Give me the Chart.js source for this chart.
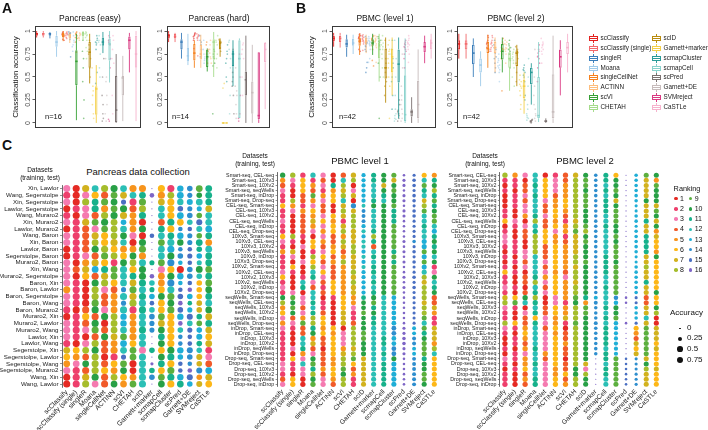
<!DOCTYPE html>
<html><head><meta charset="utf-8">
<script src="https://cdn.jsdelivr.net/npm/chart.js@4.4.0/dist/chart.umd.min.js"></script>
<style>
html,body{margin:0;padding:0;background:#fff;}
body{width:708px;height:430px;position:relative;overflow:hidden;font-family:"Liberation Sans",Arial,Helvetica,sans-serif;color:#111;}
.t{position:absolute;white-space:nowrap;line-height:1;}
canvas{position:absolute;}
.ic{position:absolute;width:9px;height:9px;}
.ic .w{position:absolute;left:4px;top:0;width:1px;height:9px;}
.ic .b{position:absolute;left:0;top:2px;width:7px;height:3px;border:1px solid;background:#fff;}
.ic .m{position:absolute;left:0;top:4px;width:9px;height:1px;}
.dot{position:absolute;border-radius:50%;}
</style></head><body>
<script>
const F = '"Liberation Sans", Arial, Helvetica, sans-serif';

// ---------- Panel A/B: box plots ----------
const methods = ['scClassify','scClassify (single)','singleR','Moana','singleCellNet','ACTINN','scVI','CHETAH','scID','Garnett+marker','scmapCluster','scmapCell','scPred','Garnett+DE','SVMreject','CaSTLe'];
const methodColors = ['#E3211F','#F2696C','#3B7EBA','#9FCBEA','#F5821F','#FDBE7F','#37A035','#A6DC8C','#B98C0F','#F3CF4A','#2B9C98','#8AD2CC','#7B7170','#C7BCBC','#D93A82','#F6B3CD'];
const yTicks = [0, 0.25, 0.5, 0.75, 1];
const yTickLabels = ['0', '0.25', '0.5', '0.75', '1'];

// [min, q1, median, q3, max]
const easyBox = [
[0.93,0.95,0.97,0.98,1.0],[0.93,0.95,0.97,0.98,1.0],[0.92,0.95,0.97,0.98,0.99],[0.72,0.83,0.88,0.95,1.0],
[0.89,0.93,0.96,0.98,1.0],[0.87,0.92,0.95,0.97,0.99],[0.03,0.41,0.67,0.79,0.97],[0.9,0.94,0.97,0.99,1.0],
[0.43,0.6,0.77,0.88,0.97],[0.0,0.09,0.37,0.4,0.63],[0.76,0.84,0.88,0.93,0.99],[0.44,0.68,0.86,0.92,1.0],
[0.0,0.01,0.14,0.51,0.75],[0.02,0.3,0.49,0.51,0.73],[0.55,0.8,0.9,0.94,0.98],[0.02,0.6,0.75,0.95,1.0]];
const hardBox = [
[0.88,0.92,0.95,0.97,1.0],[0.88,0.92,0.94,0.97,0.98],[0.7,0.8,0.88,0.91,0.98],[0.63,0.67,0.73,0.82,0.97],
[0.6,0.68,0.76,0.86,0.9],[0.6,0.69,0.75,0.85,0.96],[0.56,0.61,0.72,0.8,0.81],[0.5,0.69,0.88,0.91,0.99],
[0.72,0.8,0.87,0.9,0.92],[0,0,0,0,0],[0.4,0.62,0.75,0.79,0.9],[0.05,0.05,0.7,0.9,0.92],
[0,0.3,0.47,0.56,0.95],[0,0.1,0.33,0.45,0.85],[0,0.04,0.08,0.77,0.77],[0.15,0.66,0.8,0.87,0.88]];
const level1Box = [
[0.83,0.89,0.92,0.95,0.98],[0.82,0.88,0.92,0.95,0.98],[0.72,0.82,0.86,0.91,0.96],[0.75,0.84,0.87,0.92,0.96],
[0.74,0.84,0.89,0.93,0.97],[0.76,0.85,0.89,0.93,0.96],[0.74,0.84,0.87,0.91,0.97],[0.45,0.7,0.83,0.87,0.97],
[0.22,0.48,0.6,0.81,0.93],[0.3,0.55,0.72,0.81,0.93],[0.05,0.44,0.64,0.8,0.93],[0,0.02,0.09,0.52,0.92],
[0,0.07,0.12,0.15,0.28],[0,0.05,0.2,0.46,0.8],[0.65,0.77,0.83,0.88,0.95],[0.7,0.8,0.87,0.91,0.97]];
const level2Box = [
[0.7,0.8,0.86,0.9,0.97],[0.7,0.8,0.86,0.9,0.97],[0.5,0.64,0.76,0.85,0.92],[0.4,0.55,0.63,0.7,0.78],
[0.6,0.76,0.81,0.88,0.96],[0.55,0.76,0.82,0.88,0.93],[0.55,0.69,0.78,0.86,0.93],[0.35,0.6,0.7,0.77,0.83],
[0.4,0.62,0.76,0.79,0.85],[0.1,0.27,0.4,0.47,0.55],[0.2,0.42,0.55,0.6,0.65],[0.01,0.05,0.08,0.5,0.88],
[0,0.01,0.02,0.03,0.05],[0,0.05,0.12,0.53,0.95],[0.3,0.6,0.72,0.8,0.9],[0.55,0.75,0.82,0.88,0.97]];

// individual accuracies shown as jittered points (outliers included)
const easyPts = [
[0.96,0.97,0.98,0.95,0.99,0.97,0.94,0.91,0.9],[0.97,0.96,0.98,0.95,0.99,0.93,0.97,0.92],[0.97,0.96,0.98,0.95,0.99,0.93,0.97,0.72,0.91],
[0.9,0.85,0.83,0.95,0.78,0.88,0.99],[0.97,0.95,0.98,0.93,0.99,0.96,0.92,0.77,0.88],[0.95,0.93,0.97,0.9,0.96,0.98,0.92],
[0.7,0.45,0.25,0.6,0.78,0.05,0.9],[0.97,0.95,0.99,0.96,0.98,0.93,0.9,0.82,0.78,0.7],[0.8,0.7,0.6,0.85,0.5,0.9,0.75],
[0.35,0.2,0.05,0.4,0.6,0.1,0.3],[0.9,0.85,0.88,0.95,0.8,0.92,0.87,0.43,0.55],[0.9,0.75,0.6,0.88,0.5,0.95,0.85],
[0.1,0.3,0.05,0.5,0.7,0.2,0.02],[0.3,0.45,0.1,0.5,0.7,0.2,0.02],[0.9,0.85,0.95,0.7,0.93,0.88,0.6,0.02,0.04],[0.8,0.65,0.95,0.3,0.9,0.1,0.7]];
const hardPts = [
[0.94,0.96,0.92,0.98,0.95,0.9,0.97,0.81],[0.93,0.95,0.9,0.97,0.94,0.92,0.96,0.73],[0.85,0.9,0.8,0.75,0.95,0.88,0.72],
[0.7,0.75,0.8,0.68,0.9,0.72,0.65],[0.75,0.8,0.7,0.85,0.65,0.88,0.78],[0.72,0.8,0.7,0.85,0.65,0.9,0.76],
[0.7,0.75,0.65,0.8,0.62,0.78,0.72,0.1],[0.9,0.85,0.7,0.95,0.6,0.88,0.75],[0.85,0.88,0.82,0.9,0.78,0.87,0.91],
[0,0,0,0,0,0,0.38,0.43],[0.75,0.7,0.65,0.78,0.5,0.85,0.45],[0.8,0.6,0.1,0.88,0.3,0.9,0.7],
[0.5,0.4,0.3,0.55,0.1,0.8,0.45],[0.35,0.2,0.4,0.1,0.6,0.3,0.05],[0.05,0.1,0.7,0.3,0.75,0.02,0.5],[0.8,0.7,0.85,0.5,0.87,0.3,0.75]];
const level1Pts = [
[0.92,0.9,0.94,0.95,0.88,0.93,0.91,0.96,0.89,0.97,0.8,0.78],[0.91,0.93,0.89,0.95,0.9,0.94,0.88,0.96,0.92,0.86,0.79],
[0.86,0.84,0.88,0.9,0.8,0.92,0.83,0.87,0.78,0.94,0.6,0.55,0.66],[0.88,0.86,0.9,0.84,0.92,0.8,0.87,0.94,0.85,0.89,0.66,0.7],
[0.9,0.88,0.86,0.92,0.94,0.84,0.89,0.8,0.91,0.95,0.68,0.62],[0.9,0.88,0.86,0.92,0.94,0.84,0.89,0.82,0.91,0.95,0.66],
[0.88,0.86,0.9,0.84,0.92,0.8,0.87,0.94,0.85,0.89,0.5,0.05,0.65],[0.85,0.8,0.75,0.87,0.6,0.9,0.83,0.7,0.5,0.95],
[0.6,0.5,0.7,0.4,0.8,0.55,0.3,0.65,0.9,0.45],[0.75,0.6,0.8,0.5,0.7,0.9,0.65,0.4,0.78,0.85,0.05],
[0.65,0.5,0.75,0.3,0.8,0.6,0.9,0.45,0.7,0.15],[0.05,0.1,0.3,0.02,0.5,0.08,0.7,0.15,0.9,0.04],
[0.1,0.12,0.08,0.14,0.2,0.05,0.13,0.25,0.1,0.02],[0.1,0.3,0.2,0.05,0.4,0.6,0.15,0.02,0.75,0.25],
[0.83,0.8,0.86,0.78,0.88,0.75,0.9,0.82,0.7,0.85,0.6],[0.87,0.85,0.9,0.83,0.92,0.8,0.88,0.95,0.86,0.75,0.66]];
const level2Pts = [
[0.86,0.84,0.88,0.8,0.9,0.82,0.93,0.87,0.78,0.95],[0.86,0.84,0.88,0.8,0.9,0.82,0.93,0.87,0.78,0.95],
[0.76,0.7,0.8,0.65,0.85,0.6,0.9,0.72,0.55,0.82],[0.63,0.6,0.66,0.55,0.7,0.58,0.75,0.62,0.45,0.68],
[0.82,0.8,0.85,0.78,0.88,0.75,0.92,0.81,0.7,0.86,0.35],[0.82,0.8,0.85,0.78,0.88,0.75,0.9,0.81,0.65,0.86],
[0.78,0.75,0.82,0.7,0.86,0.68,0.9,0.8,0.6,0.84],[0.7,0.65,0.75,0.6,0.77,0.5,0.8,0.72,0.4,0.68],
[0.76,0.7,0.78,0.65,0.8,0.55,0.83,0.74,0.45,0.77],[0.4,0.35,0.45,0.3,0.47,0.2,0.52,0.38,0.15,0.42],
[0.55,0.5,0.58,0.45,0.6,0.3,0.63,0.52,0.25,0.57],[0.08,0.05,0.2,0.1,0.4,0.06,0.7,0.15,0.03,0.5],
[0.02,0.01,0.03,0.02,0.04,0.01,0.02,0.03,0.0,0.02],[0.1,0.05,0.3,0.15,0.5,0.08,0.8,0.2,0.02,0.4],
[0.72,0.7,0.76,0.65,0.8,0.6,0.85,0.73,0.45,0.78],[0.82,0.8,0.85,0.78,0.88,0.75,0.92,0.84,0.65,0.86]];

// ---------- Panel C: dot matrices ----------
const methodsC = ['scClassify','scClassify (single)','singleR','Moana','singleCellNet','ACTINN','scVI','CHETAH','scID','Garnett+marker','scmapCell','scmapCluster','scPred','Garnett+DE','SVMreject','CaSTLe'];
const rankColors = ['#E52A24','#EE3F6C','#F57AB0','#F15A29','#F7941D','#FDB718','#D2B21E','#A5BD2C','#5CAF3E','#28A046','#17B18B','#2BBFB5','#1FAED6','#2E8ECE','#4A6FC2','#7E65C6'];

const pancreasRows = ['Xin, Lawlor','Wang, Segerstolpe','Xin, Segerstolpe','Lawlor, Segerstolpe','Wang, Muraro2','Xin, Muraro2','Lawlor, Muraro2','Wang, Baron','Xin, Baron','Lawlor, Baron','Segerstolpe, Baron','Muraro2, Baron','Xin, Wang','Muraro2, Segerstolpe','Baron, Xin','Baron, Lawlor','Baron, Segerstolpe','Baron, Wang','Baron, Muraro2','Muraro2, Xin','Muraro2, Lawlor','Muraro2, Wang','Lawlor, Xin','Lawlor, Wang','Segerstolpe, Xin','Segerstolpe, Lawlor','Segerstolpe, Wang','Segerstolpe, Muraro2','Wang, Xin','Wang, Lawlor'];
const pancreasRank = [
[3,1,7,12,8,10,12,5,5,16,6,2,13,14,9,11],[2,1,3,6,4,9,7,12,11,16,5,8,13,14,10,11],[3,1,8,11,9,10,15,2,9,16,7,6,12,13,12,11],
[1,2,3,11,5,9,10,4,8,16,12,6,15,14,13,7],[2,1,3,4,8,10,7,5,11,16,12,6,13,14,9,12],[3,2,7,9,10,8,13,5,1,16,4,11,6,12,15,12],
[1,2,4,3,9,8,12,5,10,16,11,6,14,15,12,13],[3,2,4,7,6,8,10,3,1,15,12,11,13,14,9,11],[3,2,4,8,6,7,12,1,10,16,9,12,10,14,11,5],
[1,2,4,10,8,6,5,5,9,16,12,13,14,15,11,12],[1,2,3,4,9,8,6,10,5,16,12,10,14,15,13,11],[3,1,5,7,6,2,10,8,12,11,9,14,13,15,12,11],
[3,4,7,13,11,9,12,6,10,16,3,6,1,14,10,9],[3,1,6,4,7,9,12,11,10,16,5,10,13,14,12,11],[3,2,1,10,8,6,12,7,11,12,5,14,13,15,6,9],
[5,2,1,8,3,4,14,9,12,11,6,12,15,16,6,10],[3,2,1,8,4,5,12,7,11,13,10,9,15,13,6,11],[3,2,1,9,4,5,14,8,12,15,6,10,16,11,7,12],
[2,1,4,10,3,5,12,2,11,12,6,9,15,13,7,10],[1,2,6,4,10,8,13,5,12,14,9,6,13,15,11,7],[3,2,4,10,1,8,13,5,12,14,7,6,16,12,9,11],
[3,2,3,9,4,8,12,5,11,14,10,6,12,15,13,7],[3,2,1,4,10,7,9,5,12,16,11,6,14,15,13,6],[2,1,3,8,4,5,13,6,12,16,10,6,14,15,11,7],
[7,6,8,10,4,5,12,9,3,11,6,10,13,14,12,2],[6,5,4,8,1,2,15,9,12,16,10,11,13,14,7,3],[5,3,10,8,4,6,9,1,12,16,11,6,15,14,7,4],
[3,2,4,8,6,5,10,1,12,11,6,9,15,16,14,13],[1,2,7,10,4,8,6,5,12,14,9,11,13,15,5,7],[1,2,8,3,4,10,5,9,12,16,10,6,11,13,7,6]];
// accuracy per cell, one digit per method: digit/10
const pancreasAcc = ['9998998990997588','9999988883988458','9998984990897688','9999989990895448','9999999890898558','9998985990898568',
'9999888890893368','9999988993887458','9998997990897488','9999988890893358','9999988890895458','9999988894893348',
'9998989990999588','9999988893897558','9999988895893358','9999984994893358','9999989995895558','9999984993883358',
'9999989995895458','9999987895897658','9999987894893558','9999988894895458','9999988990893368','9999988890893358',
'8889998895897658','8889994890895568','8889988991893358','9999988895893368','9999988895897658','9998988890898568'];

const pbmcRows = ['Smart-seq, CEL-seq','Smart-seq, 10Xv3','Smart-seq, 10Xv2','Smart-seq, seqWells','Smart-seq, inDrop','Smart-seq, Drop-seq',
'CEL-seq, Smart-seq','CEL-seq, 10Xv3','CEL-seq, 10Xv2','CEL-seq, seqWells','CEL-seq, inDrop','CEL-seq, Drop-seq',
'10Xv3, Smart-seq','10Xv3, CEL-seq','10Xv3, 10Xv2','10Xv3, seqWells','10Xv3, inDrop','10Xv3, Drop-seq',
'10Xv2, Smart-seq','10Xv2, CEL-seq','10Xv2, 10Xv3','10Xv2, seqWells','10Xv2, inDrop','10Xv2, Drop-seq',
'seqWells, Smart-seq','seqWells, CEL-seq','seqWells, 10Xv3','seqWells, 10Xv2','seqWells, inDrop','seqWells, Drop-seq',
'inDrop, Smart-seq','inDrop, CEL-seq','inDrop, 10Xv3','inDrop, 10Xv2','inDrop, seqWells','inDrop, Drop-seq',
'Drop-seq, Smart-seq','Drop-seq, CEL-seq','Drop-seq, 10Xv3','Drop-seq, 10Xv2','Drop-seq, seqWells','Drop-seq, inDrop'];
const level1Rank = [
[10,8,2,12,3,1,4,7,13,11,10,9,16,15,6,5],[5,3,6,2,4,1,12,8,13,11,10,7,16,15,12,11],[4,2,6,5,3,11,8,1,13,12,7,10,16,15,9,10],
[3,1,6,4,2,5,7,3,13,12,10,9,16,15,11,8],[2,1,4,9,5,6,8,7,13,12,11,10,16,15,12,11],[2,8,4,5,3,6,12,1,13,11,12,10,16,15,7,9],
[6,5,2,3,4,1,7,14,12,10,10,9,16,15,8,11],[2,3,5,6,4,1,8,7,14,12,10,11,16,15,9,10],[2,1,4,5,3,6,7,8,14,12,10,11,16,15,12,9],
[3,1,4,7,6,5,2,8,14,12,10,11,16,15,12,9],[2,1,4,5,3,6,7,8,13,12,10,9,16,15,11,12],[2,1,4,3,5,6,8,7,12,11,10,9,16,15,12,13],
[6,8,2,1,3,4,5,7,13,8,10,9,16,15,12,11],[3,2,1,6,5,4,8,7,12,11,10,9,16,14,13,10],[2,1,3,6,4,5,7,8,12,4,10,9,16,15,13,11],
[5,7,1,2,3,6,4,8,13,12,10,11,16,15,9,10],[2,3,1,8,6,4,5,7,12,11,10,9,16,15,13,12],[2,1,3,6,4,5,8,7,13,12,10,11,16,15,9,10],
[2,6,1,8,3,4,5,7,12,11,10,9,16,15,13,2],[3,2,1,12,6,4,5,8,13,11,10,9,16,15,12,3],[6,1,2,11,3,4,5,7,13,12,10,9,16,15,8,10],
[2,1,12,3,4,6,5,8,13,11,10,9,16,15,7,12],[3,1,11,4,2,6,5,7,13,12,10,9,16,15,8,11],[2,3,1,12,4,6,5,7,13,11,10,9,16,15,8,10],
[10,9,3,12,1,2,6,5,11,10,12,13,16,15,8,4],[8,10,3,11,2,1,6,5,10,9,12,13,16,15,7,4],[5,9,4,12,2,1,6,3,10,11,12,13,16,15,8,7],
[6,10,3,11,4,1,7,2,9,10,12,13,16,15,8,5],[3,4,5,8,6,1,7,2,10,11,12,13,16,15,9,2],[5,3,9,8,6,1,7,4,10,11,12,13,16,15,12,2],
[3,2,4,11,5,6,1,8,10,12,12,14,16,13,9,7],[2,1,4,10,6,5,3,8,9,12,12,14,16,13,11,7],[2,1,12,5,4,6,3,8,9,12,11,13,16,14,10,7],
[2,1,12,7,4,6,3,8,10,12,11,13,16,14,9,5],[2,3,11,4,1,6,5,7,10,12,12,14,16,13,9,8],[2,1,5,3,4,6,7,8,10,12,11,14,16,13,9,12],
[2,6,3,10,4,5,8,9,7,12,12,10,16,14,11,6],[3,2,12,9,4,5,8,6,7,12,11,13,16,14,10,6],[3,2,3,11,5,6,9,4,7,12,11,13,16,14,10,6],
[2,1,3,8,4,6,10,5,7,12,11,13,16,14,9,6],[4,6,1,10,3,5,8,2,7,12,11,13,16,14,9,6],[3,6,1,9,3,4,8,2,7,12,11,13,16,14,10,6]];
const level1Acc = ['9999999958881288','9999999858882388','9999998958882388','9999999958881288','9998999958882388','9899999958882378',
'9999999948881288','9999999848882388','9999999848882388','9999999848881288','9999999858881288','9999999958881288',
'9999999958981288','9999999858882388','9999999859881288','9999999958882388','9999999958881288','9999999958882388',
'9999999958881289','9999999958881289','9999999958882388','9999999958881288','9999999958882388','9999999958881288',
'8898999878871289','8898999878871289','9898999878871288','9898999978871288','9998999978871289','9998999978871289',
'9999999888872488','9999999888872488','9999999888873488','9999999888873489','9999999888872488','9999999888872488',
'9999999888881488','9999999888881488','9999999988881488','9999999888881488','9999999988881488','9999999988881488'];
const level2Rank = [
[8,5,3,12,1,2,4,7,10,14,11,6,16,13,9,10],[2,2,1,12,6,3,4,8,9,14,11,10,16,13,7,5],[1,2,4,11,6,3,5,8,9,14,12,10,16,13,7,9],
[2,1,4,12,6,3,5,8,10,14,11,9,16,13,7,10],[1,2,3,11,6,4,5,8,9,14,12,10,16,13,7,10],[1,2,4,12,3,5,6,8,9,14,11,7,16,13,10,10],
[1,2,3,12,4,5,6,8,9,14,11,10,16,13,7,7],[2,1,3,12,4,6,5,8,10,14,11,9,16,13,7,9],[2,1,5,11,3,6,4,8,10,14,12,9,16,13,7,10],
[6,3,1,8,4,5,2,7,10,14,12,9,16,13,11,7],[1,2,3,12,4,6,5,8,9,14,11,10,16,13,7,10],[2,1,4,11,6,3,5,9,8,14,12,10,16,13,7,5],
[3,1,4,8,6,5,2,7,10,14,12,9,16,13,11,7],[3,2,1,8,6,5,4,7,9,14,12,10,16,13,11,6],[2,2,1,8,4,6,5,7,10,14,12,9,16,13,11,6],
[1,2,3,8,4,6,5,7,10,14,12,9,16,13,11,5],[2,1,3,12,4,6,5,8,10,14,11,9,16,13,7,10],[1,2,4,12,3,6,5,8,9,14,11,10,16,13,7,6],
[2,1,3,12,4,6,5,7,10,14,11,9,16,13,8,6],[6,2,1,12,3,5,4,8,10,14,11,9,16,13,7,6],[2,1,4,11,5,6,3,8,10,14,12,9,16,13,7,6],
[2,1,4,8,3,6,5,7,10,14,12,9,16,13,11,6],[3,2,1,12,4,6,5,8,10,14,11,9,16,13,7,6],[2,1,4,11,3,6,5,8,10,14,12,9,16,13,7,10],
[7,6,10,8,1,3,5,9,11,13,12,14,16,15,4,6],[8,9,12,11,1,3,2,10,5,14,12,13,16,15,4,6],[3,2,1,12,4,6,5,8,9,14,11,10,16,13,7,10],
[2,1,3,11,4,6,5,8,9,14,12,10,16,13,7,8],[2,1,4,6,3,5,7,8,10,14,11,9,16,13,12,1],[8,6,4,11,3,5,2,9,10,14,12,13,16,15,7,1],
[3,2,5,12,4,6,1,8,10,14,11,13,16,6,9,7],[2,1,6,12,3,5,4,8,10,14,11,13,16,5,9,7],[1,2,5,12,3,6,4,8,10,14,11,13,16,4,9,7],
[1,2,4,12,3,6,5,8,10,14,11,13,16,7,9,6],[2,1,5,11,3,6,4,8,10,14,12,13,16,6,9,7],[1,2,3,12,5,6,4,8,10,14,11,13,16,7,9,6],
[3,2,5,12,4,6,1,8,10,16,11,9,15,14,7,6],[2,1,5,11,3,6,4,8,7,16,12,9,15,14,10,6],[1,2,6,12,3,5,4,10,3,16,11,9,15,14,8,7],
[2,1,4,12,3,5,6,10,8,16,11,9,15,14,7,6],[2,1,5,11,3,6,4,8,10,16,12,9,15,14,7,6],[2,1,4,11,3,6,5,8,10,16,12,9,15,14,7,6]];
const level2Acc = ['9999999983880388','9999999983880388','9999999983880388','9999999983880388','9999999983880388','9999999983880388',
'9999999983880288','9999999983880288','9999999983880388','9999999983880388','9999999983880288','9999999983880388',
'9999999983880388','9999999983880388','9999999983880388','9999999983880388','9999999983880288','9999999983880288',
'9999999983880388','9999999983880388','9999999983880388','9999999983880388','9999999983880388','9999999983880388',
'9999999984861288','9999999984861288','9999999983880388','9999999983880388','9999999983880388','9999999984861288',
'9999999983850888','9999999983850888','9999999983850888','9999999983850888','9999999983850888','9999999983850888',
'9999999980881288','9999999980881288','9999999990881288','9999999980881288','9999999980881288','9999999980881288'];
const rankLegend = [1,2,3,4,5,6,7,8,9,10,11,12,13,14,15,16];
const accLegend = [0, 0.25, 0.5, 0.75];
const accLegendLabels = ['0','0.25','0.5','0.75'];

// ---------- helpers ----------
function txt(s, x, y, size, align, extra) {
  const d = document.createElement('div');
  d.className = 't'; d.textContent = s;
  d.style.fontSize = size + 'px';
  d.style.left = x + 'px'; d.style.top = (y - size * 0.55) + 'px';
  const tx = align === 'center' ? '-50%' : align === 'right' ? '-100%' : '0';
  d.style.transform = 'translateX(' + tx + ')';
  if (extra) Object.assign(d.style, extra);
  document.body.appendChild(d); return d;
}
function vtxt(s, cx, cy, size) {
  const d = document.createElement('div');
  d.className = 't'; d.textContent = s; d.style.fontSize = size + 'px';
  d.style.left = cx + 'px'; d.style.top = cy + 'px';
  d.style.transform = 'translate(-50%,-50%) rotate(-90deg)';
  document.body.appendChild(d);
}
function makeCanvas(l, t, w, h) {
  const c = document.createElement('canvas');
  c.width = w; c.height = h; c.style.left = l + 'px'; c.style.top = t + 'px';
  c.style.width = w + 'px'; c.style.height = h + 'px';
  document.body.appendChild(c); return c;
}
function hexA(hex, a) {
  const n = parseInt(hex.slice(1), 16);
  return 'rgba(' + (n >> 16) + ',' + ((n >> 8) & 255) + ',' + (n & 255) + ',' + a + ')';
}

const boxPlugin = {
  id: 'boxw',
  afterDatasetsDraw(chart, args, opts) {
    const {ctx} = chart; const y = chart.scales.y;
    const meta = chart.getDatasetMeta(0);
    opts.stats.forEach((s, i) => {
      const el = meta.data[i]; if (!el) return;
      const cx = el.x, hw = el.width / 2;
      ctx.save(); ctx.strokeStyle = methodColors[i]; ctx.lineWidth = 0.9;
      ctx.beginPath();
      ctx.moveTo(cx, y.getPixelForValue(s[3])); ctx.lineTo(cx, y.getPixelForValue(s[4]));
      ctx.moveTo(cx, y.getPixelForValue(s[1])); ctx.lineTo(cx, y.getPixelForValue(s[0]));
      ctx.stroke();
      ctx.lineWidth = 1.6; ctx.beginPath();
      const ym = y.getPixelForValue(s[2]);
      ctx.moveTo(cx - hw, ym); ctx.lineTo(cx + hw, ym); ctx.stroke();
      ctx.restore();
    });
  }
};
const framePlugin = {
  id: 'frame',
  afterDraw(chart) {
    const {ctx, chartArea: a} = chart;
    ctx.save(); ctx.strokeStyle = '#3a3a3a'; ctx.lineWidth = 1;
    ctx.strokeRect(Math.round(a.left) + 0.5, Math.round(a.top) + 0.5, Math.round(a.right - a.left) - 1, Math.round(a.bottom - a.top) - 1);
    ctx.restore();
  }
};
const yLabelPlugin = {
  id: 'ylab',
  afterDraw(chart) {
    const {ctx, chartArea: a} = chart; const y = chart.scales.y;
    ctx.save(); ctx.fillStyle = '#4d4d4d'; ctx.font = '7px ' + F;
    yTicks.forEach((v, i) => {
      const py = y.getPixelForValue(v);
      ctx.save(); ctx.translate(a.left - 3.5, py); ctx.rotate(-Math.PI / 2);
      ctx.textAlign = 'center'; ctx.textBaseline = 'bottom';
      ctx.fillText(yTickLabels[i], 0, 0); ctx.restore();
    });
    ctx.restore();
  }
};

function boxChart(cfg) {
  const cv = makeCanvas(cfg.left, 0, cfg.width, 135);
  const pts = [];
  cfg.pts.forEach((arr, i) => arr.forEach((v, k) => {
    const off = (((k * 0.618 + i * 0.29) % 1) - 0.5) * 0.62; // horizontal jitter within the box width
    pts.push({x: i + off, y: v, c: i});
  }));
  new Chart(cv, {
    type: 'bar',
    data: {labels: methods, datasets: [
      {type: 'bar', data: cfg.box.map(b => [b[1], b[3]]), backgroundColor: 'rgba(255,255,255,0)', borderColor: methodColors,
       borderWidth: 1, borderSkipped: false, barPercentage: 0.72, categoryPercentage: 1, order: 1},
      {type: 'scatter', xAxisID: 'xj', data: pts, pointRadius: 0.85, pointBackgroundColor: c => hexA(methodColors[c.raw ? c.raw.c : 0], 0.55), pointBorderWidth: 0, order: 2}
    ]},
    options: {
      responsive: false, animation: false, events: [], devicePixelRatio: 1,
      layout: {padding: {top: 26, bottom: 7, right: 2, left: 0}},
      plugins: {legend: {display: false}, tooltip: {enabled: false}, boxw: {stats: cfg.box}},
      scales: {
        x: {display: false, offset: true},
        xj: {type: 'linear', display: false, min: -0.5, max: methods.length - 0.5},
        y: {min: -0.055, max: 1.055,
            afterBuildTicks: s => { s.ticks = yTicks.map(v => ({value: v})); },
            afterFit: s => { s.width = cfg.yw; },
            ticks: {display: false},
            grid: {drawOnChartArea: false, drawTicks: true, tickLength: 2.5, color: '#333', lineWidth: 0.8},
            border: {display: false}}
      }
    },
    plugins: [boxPlugin, framePlugin, yLabelPlugin]
  });
}

function rad(acc, rmax) { return 0.6 + (rmax - 0.6) * Math.sqrt(acc); }

function dotChart(cfg) {
  const cv = makeCanvas(cfg.left, cfg.top, cfg.width, cfg.height);
  const pts = [];
  cfg.rows.forEach((rl, r) => methodsC.forEach((m, c) => pts.push({x: m, y: rl, rank: cfg.ranks[r][c], acc: Number(cfg.acc[r][c]) / 10})));
  new Chart(cv, {
    type: 'scatter',
    data: {datasets: [{data: pts,
      pointRadius: c => c.raw ? rad(c.raw.acc, cfg.rmax) : 0,
      pointBackgroundColor: c => c.raw ? rankColors[c.raw.rank - 1] : '#000',
      pointBorderWidth: 0, pointHoverRadius: 0}]},
    options: {
      responsive: false, animation: false, events: [], devicePixelRatio: 1,
      layout: {padding: {top: cfg.padTop, right: cfg.padRight, left: 0, bottom: 0}},
      plugins: {legend: {display: false}, tooltip: {enabled: false}},
      scales: {
        x: {type: 'category', labels: methodsC, offset: true, afterFit: s => { s.height = cfg.xh; },
            grid: {display: false, drawTicks: false}, border: {display: false},
            ticks: {autoSkip: false, minRotation: 45, maxRotation: 45, padding: 1, font: {size: cfg.xfs, family: F}, color: '#1a1a1a'}},
        y: {type: 'category', labels: cfg.rows, offset: true, afterFit: s => { s.width = cfg.yw; },
            grid: {drawOnChartArea: false, drawTicks: true, tickLength: 2, color: '#444', lineWidth: 0.6},
            border: {display: true, color: '#444', width: 0.8},
            ticks: {autoSkip: false, padding: 1.5, font: {size: cfg.yfs, family: F}, color: '#1a1a1a'}}
      }
    }
  });
}

// ---------- build ----------
boxChart({left: 0, width: 145, yw: 35, box: easyBox, pts: easyPts});
boxChart({left: 140, width: 134, yw: 27, box: hardBox, pts: hardPts});
boxChart({left: 290, width: 150, yw: 42, box: level1Box, pts: level1Pts});
boxChart({left: 440, width: 137, yw: 17, box: level2Box, pts: level2Pts});

dotChart({left: 0, top: 180, width: 217, height: 250, padTop: 3.6, padRight: 2, yw: 62, xh: 42.6, rows: pancreasRows, ranks: pancreasRank, acc: pancreasAcc, rmax: 3.7, xfs: 6.8, yfs: 6.2});
dotChart({left: 215, top: 168, width: 227, height: 262, padTop: 2.7, padRight: 2.4, yw: 62.6, xh: 43.1, rows: pbmcRows, ranks: level1Rank, acc: level1Acc, rmax: 2.75, xfs: 6.6, yfs: 5.3});
dotChart({left: 437, top: 168, width: 227, height: 262, padTop: 2.7, padRight: 1.6, yw: 62.9, xh: 43.1, rows: pbmcRows, ranks: level2Rank, acc: level2Acc, rmax: 2.75, xfs: 6.6, yfs: 5.3});

// text: panel letters, titles
txt('A', 2, 9, 14, 'left', {fontWeight: 'bold'});
txt('B', 296, 9, 14, 'left', {fontWeight: 'bold'});
txt('C', 2, 146, 14, 'left', {fontWeight: 'bold'});
txt('Pancreas (easy)', 90, 19, 8.5, 'center');
txt('Pancreas (hard)', 219, 19, 8.5, 'center');
txt('PBMC (level 1)', 385, 19, 8.5, 'center');
txt('PBMC (level 2)', 516, 19, 8.5, 'center');
vtxt('Classification accuracy', 16, 77, 8);
vtxt('Classification accuracy', 312, 77, 8);
txt('n=16', 45, 117, 7.5, 'left');
txt('n=14', 172, 117, 7.5, 'left');
txt('n=42', 339, 117, 7.5, 'left');
txt('n=42', 463, 117, 7.5, 'left');

// legend for A/B
methods.forEach((m, i) => {
  const col = i < 8 ? 0 : 1, row = i % 8;
  const cy = 38.5 + row * 9.86;
  const ix = col ? 652 : 589;
  const ic = document.createElement('div'); ic.className = 'ic';
  ic.style.left = ix + 'px'; ic.style.top = (cy - 4.5) + 'px';
  ic.innerHTML = '<div class="w" style="background:' + methodColors[i] + '"></div><div class="b" style="border-color:' + methodColors[i] + '"></div><div class="m" style="background:' + methodColors[i] + '"></div>';
  document.body.appendChild(ic);
  txt(m, ix + 11.5, cy, 6.3, 'left', {color: '#222'});
});

// panel C headers
txt('Datasets', 40, 171, 6.5, 'center');
txt('(training, test)', 40, 179, 6.5, 'center');
txt('Pancreas data collection', 138, 172, 9.5, 'center');
txt('Datasets', 255, 157, 6.5, 'center');
txt('(training, test)', 255, 164.5, 6.5, 'center');
txt('PBMC level 1', 360, 161, 9.5, 'center');
txt('Datasets', 485, 157, 6.5, 'center');
txt('(training, test)', 485, 164.5, 6.5, 'center');
txt('PBMC level 2', 585, 161, 9.5, 'center');

// Ranking legend
txt('Ranking', 687, 189, 7.3, 'center');
rankLegend.forEach((k, i) => {
  const col = i < 8 ? 0 : 1, row = i % 8;
  const cy = 198.7 + row * 10.2;
  const dx = col ? 690.7 : 676;
  const d = document.createElement('div'); d.className = 'dot';
  d.style.left = (dx - 1.8) + 'px'; d.style.top = (cy - 1.8) + 'px'; d.style.width = '3.6px'; d.style.height = '3.6px';
  d.style.background = rankColors[k - 1]; document.body.appendChild(d);
  txt(String(k), dx + 4, cy, 7, 'left');
});
// Accuracy legend
txt('Accuracy', 670, 313, 8, 'left');
accLegend.forEach((a, i) => {
  const cy = [328.3, 338.7, 349.3, 360][i];
  const r = rad(a, 3.8);
  const d = document.createElement('div'); d.className = 'dot';
  d.style.left = (680 - r) + 'px'; d.style.top = (cy - r) + 'px'; d.style.width = (2 * r) + 'px'; d.style.height = (2 * r) + 'px';
  d.style.background = '#111'; document.body.appendChild(d);
  txt(accLegendLabels[i], 687, cy, 8, 'left');
});
</script>
</body></html>
